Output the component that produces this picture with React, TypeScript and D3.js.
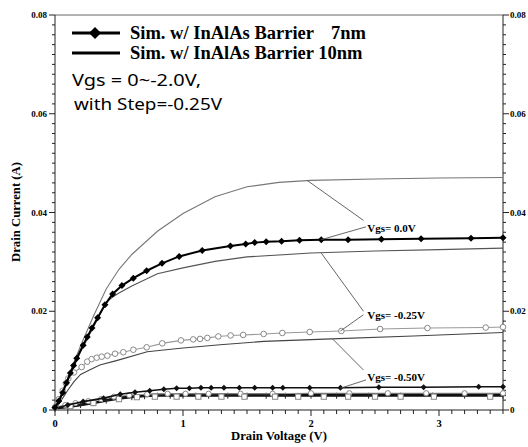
import * as d3 from "d3";

// Vgs = 0.0V, 7nm barrier (diamonds)
const d7Vgs0: [number, number][] = [
  [0, 0.0005], [0.03, 0.0018], [0.06, 0.0035], [0.09, 0.0055], [0.12, 0.0075], [0.145, 0.009],
  [0.17, 0.0105], [0.22, 0.0131], [0.252, 0.0148], [0.289, 0.0166], [0.333, 0.0187], [0.39, 0.0213],
  [0.45, 0.0235], [0.523, 0.0252], [0.612, 0.0267], [0.716, 0.0282], [0.836, 0.0297], [0.97, 0.0311],
  [1.15, 0.0323], [1.37, 0.0332], [1.49, 0.0336], [1.56, 0.0339], [1.65, 0.0341], [1.77, 0.0342],
  [1.91, 0.0344], [2.08, 0.0345], [2.29, 0.0345], [2.55, 0.0346], [2.86, 0.0347], [3.25, 0.0348], [3.5, 0.0349],
];
// upper thin grey curve
const thinUpper: [number, number][] = [
  [0, 0], [0.1, 0.0065], [0.2, 0.013], [0.3, 0.019], [0.4, 0.0245], [0.5, 0.0285], [0.6, 0.0315],
  [0.8, 0.0362], [1.0, 0.0398], [1.25, 0.0432], [1.5, 0.0452], [1.75, 0.0461], [2.0, 0.0465],
  [2.5, 0.0468], [3.0, 0.047], [3.5, 0.0471],
];
// Vgs = 0.0V, 10nm barrier
const t10Vgs0: [number, number][] = [
  [0, 0], [0.1, 0.0059], [0.2, 0.0118], [0.3, 0.0168], [0.4, 0.0218], [0.45, 0.0229], [0.5, 0.0237],
  [0.6, 0.0251], [0.8, 0.0276], [1.0, 0.0288], [1.25, 0.0301], [1.5, 0.031], [2.0, 0.0318],
  [2.5, 0.0322], [3.0, 0.0325], [3.5, 0.0328],
];
// Vgs = -0.25V, 7nm (open circles)
const c7Vgs25: [number, number][] = [
  [0, 0.0005], [0.03, 0.0022], [0.06, 0.0039], [0.085, 0.0054], [0.104, 0.0064], [0.148, 0.0076],
  [0.208, 0.0087], [0.252, 0.0098], [0.286, 0.0103], [0.326, 0.0106], [0.365, 0.0108], [0.409, 0.011],
  [0.469, 0.0114], [0.534, 0.0117], [0.612, 0.0122], [0.716, 0.0127], [0.838, 0.0135], [0.984, 0.0141],
  [1.08, 0.0143], [1.133, 0.0144], [1.19, 0.0146], [1.276, 0.0149], [1.372, 0.0151], [1.47, 0.0152],
  [1.63, 0.0154], [1.776, 0.0156], [1.99, 0.0158], [2.237, 0.016], [2.54, 0.0164], [2.91, 0.0166],
  [3.365, 0.0167], [3.5, 0.0168],
];
// Vgs = -0.25V, 10nm
const t10Vgs25: [number, number][] = [
  [0, 0], [0.05, 0.002], [0.1, 0.004], [0.15, 0.0058], [0.2, 0.0072], [0.27, 0.0081], [0.35, 0.0091],
  [0.48, 0.01], [0.72, 0.0118], [0.98, 0.0125], [1.29, 0.0132], [1.63, 0.0139], [2.16, 0.0144],
  [2.8, 0.015], [3.5, 0.0157],
];
// Vgs = -0.50V, 7nm (diamonds)
const d7Vgs50: [number, number][] = [
  [0, 0.0003], [0.1, 0.001], [0.22, 0.0017], [0.38, 0.0024], [0.51, 0.0032], [0.625, 0.0036],
  [0.74, 0.0039], [0.85, 0.0042], [0.95, 0.0044], [1.05, 0.0044], [1.14, 0.0045], [1.22, 0.0045],
  [1.32, 0.0045], [1.44, 0.0045], [1.56, 0.0045], [1.7, 0.0045], [1.78, 0.0045], [1.99, 0.0045],
  [2.23, 0.0045], [2.53, 0.0046], [2.88, 0.0046], [3.31, 0.0047], [3.5, 0.0047],
];
// low Vgs band (-0.5V 10nm and below)
const bandBlackA: [number, number][] = [
  [0, 0.0004], [0.1, 0.0007], [0.2, 0.0011], [0.3, 0.0015], [0.4, 0.002], [0.5, 0.0025], [0.6, 0.0028],
  [0.7, 0.003], [0.8, 0.0031], [1.0, 0.0032], [1.5, 0.0032], [2.0, 0.0032], [2.5, 0.0032], [3.0, 0.0032], [3.5, 0.0032],
];
const bandBlackB: [number, number][] = [
  [0, 0.0003], [0.1, 0.0006], [0.2, 0.001], [0.3, 0.0014], [0.4, 0.0019], [0.5, 0.0023], [0.6, 0.0026],
  [0.7, 0.0028], [0.8, 0.0029], [0.9, 0.0029], [1.0, 0.0029], [1.1, 0.0029], [1.2, 0.0029], [1.35, 0.0029],
  [1.5, 0.0029], [1.65, 0.0029], [1.8, 0.0029], [2.0, 0.0029], [2.2, 0.0029], [2.45, 0.0029],
  [2.7, 0.0029], [2.95, 0.0029], [3.2, 0.0029], [3.5, 0.0029],
];
const bandCircles: [number, number][] = [
  [0, 0.0006], [0.08, 0.001], [0.16, 0.0014], [0.26, 0.0018], [0.36, 0.0022], [0.46, 0.0027],
  [0.58, 0.003], [0.72, 0.0032], [0.88, 0.0033], [1.02, 0.0033], [1.2, 0.0033], [1.45, 0.0033],
  [1.7, 0.0033], [2.0, 0.0034], [2.3, 0.0034], [2.6, 0.0034], [2.9, 0.0034], [3.2, 0.0034], [3.5, 0.0034],
];
const bandSquares: [number, number][] = [
  [0.12, 0.0008], [0.3, 0.0014], [0.5, 0.0022], [0.64, 0.0026], [0.78, 0.0027], [0.95, 0.0027],
  [1.12, 0.0027], [1.3, 0.0027], [1.48, 0.0027], [1.72, 0.0027], [1.9, 0.0027], [2.1, 0.0027],
  [2.29, 0.0027], [2.5, 0.0027], [2.7, 0.0027], [2.96, 0.0027], [3.4, 0.0027],
];

const xTicks = [0, 1, 2, 3];
const yTicks = [0, 0.02, 0.04, 0.06, 0.08];
const yTickLabels = ["0", "0.02", "0.04", "0.06", "0.08"];

// annotations: label [V, I] and leader segments [[V1,I1],[V2,I2]]
const labels = [
  { text: "Vgs= 0.0V", at: [2.44, 0.036], leaders: [[[1.97, 0.0465], [2.41, 0.0384]], [[2.08, 0.0345], [2.43, 0.0371]]] },
  { text: "Vgs= -0.25V", at: [2.44, 0.0185], leaders: [[[2.08, 0.0318], [2.41, 0.02]], [[2.23, 0.016], [2.41, 0.0193]]] },
  { text: "Vgs= -0.50V", at: [2.44, 0.0058], leaders: [[[2.17, 0.01436], [2.41, 0.0081]], [[2.23, 0.0044], [2.43, 0.0061]]] },
];

const W = 528, H = 447;
const m = { left: 55, right: 25, top: 15, bottom: 37 };

export default function App() {
  const x = d3.scaleLinear().domain([0, 3.5]).range([m.left, W - m.right]);
  const y = d3.scaleLinear().domain([0, 0.08]).range([H - m.bottom, m.top]);
  const line = d3.line<[number, number]>().x(d => x(d[0])).y(d => y(d[1]));
  const serif = "Liberation Serif, Times New Roman, DejaVu Serif, serif";
  const x0 = x(0), x1 = x(3.5), y0 = y(0), y1 = y(0.08);
  const xMinor = d3.range(0, 35.01, 1).map(v => v / 10);
  const yMinor = d3.range(0, 40.01, 1).map(v => v / 500);
  const diamond = (cx: number, cy: number, r: number) =>
    `M${cx},${cy - r}L${cx + r},${cy}L${cx},${cy + r}L${cx - r},${cy}Z`;

  return (
    <svg width={W} height={H} style={{ position: "absolute", left: 0, top: 0, background: "#fff" }}>
      <rect width={W} height={H} fill="#fff" />
      {/* frame */}
      <line x1={x0} x2={x1} y1={y1} y2={y1} stroke="#666" strokeWidth={1} />
      <line x1={x0} x2={x0} y1={y1} y2={y0} stroke="#222" strokeWidth={1} />
      <line x1={x1} x2={x1} y1={y1} y2={y0} stroke="#222" strokeWidth={1} />
      <line x1={x0} x2={x1} y1={y0} y2={y0} stroke="#222" strokeWidth={1} />
      {/* x ticks */}
      {xMinor.map((v, i) => (
        <line key={"xm" + i} x1={x(v)} x2={x(v)} y1={y0} y2={y0 + (i % 10 === 0 ? 6 : 4)} stroke="#222" />
      ))}
      {xTicks.map(v => (
        <text key={"xt" + v} x={x(v)} y={y0 + 17} textAnchor="middle" fontFamily={serif} fontWeight="bold" fontSize={10.5}>{v}</text>
      ))}
      {/* y ticks, left and right */}
      {yMinor.map((v, i) => (
        <g key={"ym" + i}>
          <line x1={x0} x2={x0 - (i % 10 === 0 ? 6 : 3)} y1={y(v)} y2={y(v)} stroke="#222" />
          <line x1={x1} x2={x1 + (i % 10 === 0 ? 6 : 3)} y1={y(v)} y2={y(v)} stroke="#222" />
        </g>
      ))}
      {yTicks.map((v, i) => (
        <g key={"yt" + i}>
          <text x={x0 - 8} y={y(v) + 3} textAnchor="end" fontFamily={serif} fontWeight="bold" fontSize={9}>{yTickLabels[i]}</text>
          <text x={x1 + 7} y={y(v) + 3} textAnchor="start" fontFamily={serif} fontWeight="bold" fontSize={9}>{yTickLabels[i]}</text>
        </g>
      ))}
      {/* axis titles */}
      <text x={279} y={440} textAnchor="middle" fontFamily={serif} fontWeight="bold" fontSize={12.7}>Drain Voltage (V)</text>
      <text transform={`translate(20,${212}) rotate(-90)`} textAnchor="middle" fontFamily={serif} fontWeight="bold" fontSize={12.7}>Drain Current (A)</text>

      {/* low Vgs band */}
      <path d={line(bandBlackA) || ""} fill="none" stroke="#111" strokeWidth={2.2} />
      <path d={line(bandBlackB) || ""} fill="none" stroke="#111" strokeWidth={2.2} />
      {bandBlackB.map((d, i) => (
        <path key={"bp" + i} d={`M${x(d[0]) - 3},${y(d[1])}h6M${x(d[0])},${y(d[1]) - 3}v6`} stroke="#222" strokeWidth={1} />
      ))}
      <path d={line(bandCircles) || ""} fill="none" stroke="#999" strokeWidth={1} />
      {bandCircles.map((d, i) => (
        <circle key={"bc" + i} cx={x(d[0])} cy={y(d[1])} r={2.6} fill="#fff" stroke="#888" strokeWidth={1} />
      ))}
      {bandSquares.map((d, i) => (
        <rect key={"bs" + i} x={x(d[0]) - 2.6} y={y(d[1]) - 2.6} width={5.2} height={5.2} fill="#fff" stroke="#888" strokeWidth={1} />
      ))}

      {/* Vgs=-0.50V 7nm */}
      <path d={line(d7Vgs50) || ""} fill="none" stroke="#111" strokeWidth={1.6} />
      {d7Vgs50.map((d, i) => (
        <path key={"d50" + i} d={diamond(x(d[0]), y(d[1]), 3)} fill="#111" />
      ))}

      {/* Vgs=-0.25V */}
      <path d={line(t10Vgs25) || ""} fill="none" stroke="#444" strokeWidth={1.1} />
      <path d={line(c7Vgs25) || ""} fill="none" stroke="#999" strokeWidth={1.1} />
      {c7Vgs25.map((d, i) => (
        <circle key={"c25" + i} cx={x(d[0])} cy={y(d[1])} r={2.8} fill="#fff" stroke="#888" strokeWidth={1} />
      ))}

      {/* Vgs=0V */}
      <path d={line(thinUpper) || ""} fill="none" stroke="#777" strokeWidth={1.1} />
      <path d={line(t10Vgs0) || ""} fill="none" stroke="#555" strokeWidth={1.2} />
      <path d={line(d7Vgs0) || ""} fill="none" stroke="#000" strokeWidth={2} />
      {d7Vgs0.map((d, i) => (
        <path key={"d0" + i} d={diamond(x(d[0]), y(d[1]), 3.5)} fill="#000" />
      ))}

      {/* annotations */}
      {labels.map((l, i) => (
        <g key={"lb" + i}>
          {l.leaders.map((s, j) => (
            <line key={j} x1={x(s[0][0])} y1={y(s[0][1])} x2={x(s[1][0])} y2={y(s[1][1])} stroke="#555" strokeWidth={0.9} />
          ))}
          <text x={x(l.at[0])} y={y(l.at[1])} fontFamily={serif} fontWeight="bold" fontSize={11}>{l.text}</text>
        </g>
      ))}

      {/* legend */}
      <line x1={72} x2={120} y1={33} y2={33} stroke="#000" strokeWidth={3} />
      <path d={diamond(95, 33, 6)} fill="#000" />
      <line x1={72} x2={120} y1={53} y2={53} stroke="#000" strokeWidth={3} />
      <text x={130} y={39} fontFamily={serif} fontWeight="bold" fontSize={18.5}>Sim. w/ InAlAs Barrier</text>
      <text x={366} y={39} textAnchor="end" fontFamily={serif} fontWeight="bold" fontSize={18.5}>7nm</text>
      <text x={130} y={59} fontFamily={serif} fontWeight="bold" fontSize={18.5}>Sim. w/ InAlAs Barrier 10nm</text>
      <text x={72} y={86} fontFamily="Noto Sans, DejaVu Sans, sans-serif" fontSize={17} textLength={129} lengthAdjust="spacingAndGlyphs">Vgs = 0~-2.0V,</text>
      <text x={74} y={110} fontFamily="Noto Sans, DejaVu Sans, sans-serif" fontSize={17} textLength={148} lengthAdjust="spacingAndGlyphs">with Step=-0.25V</text>
    </svg>
  );
}
